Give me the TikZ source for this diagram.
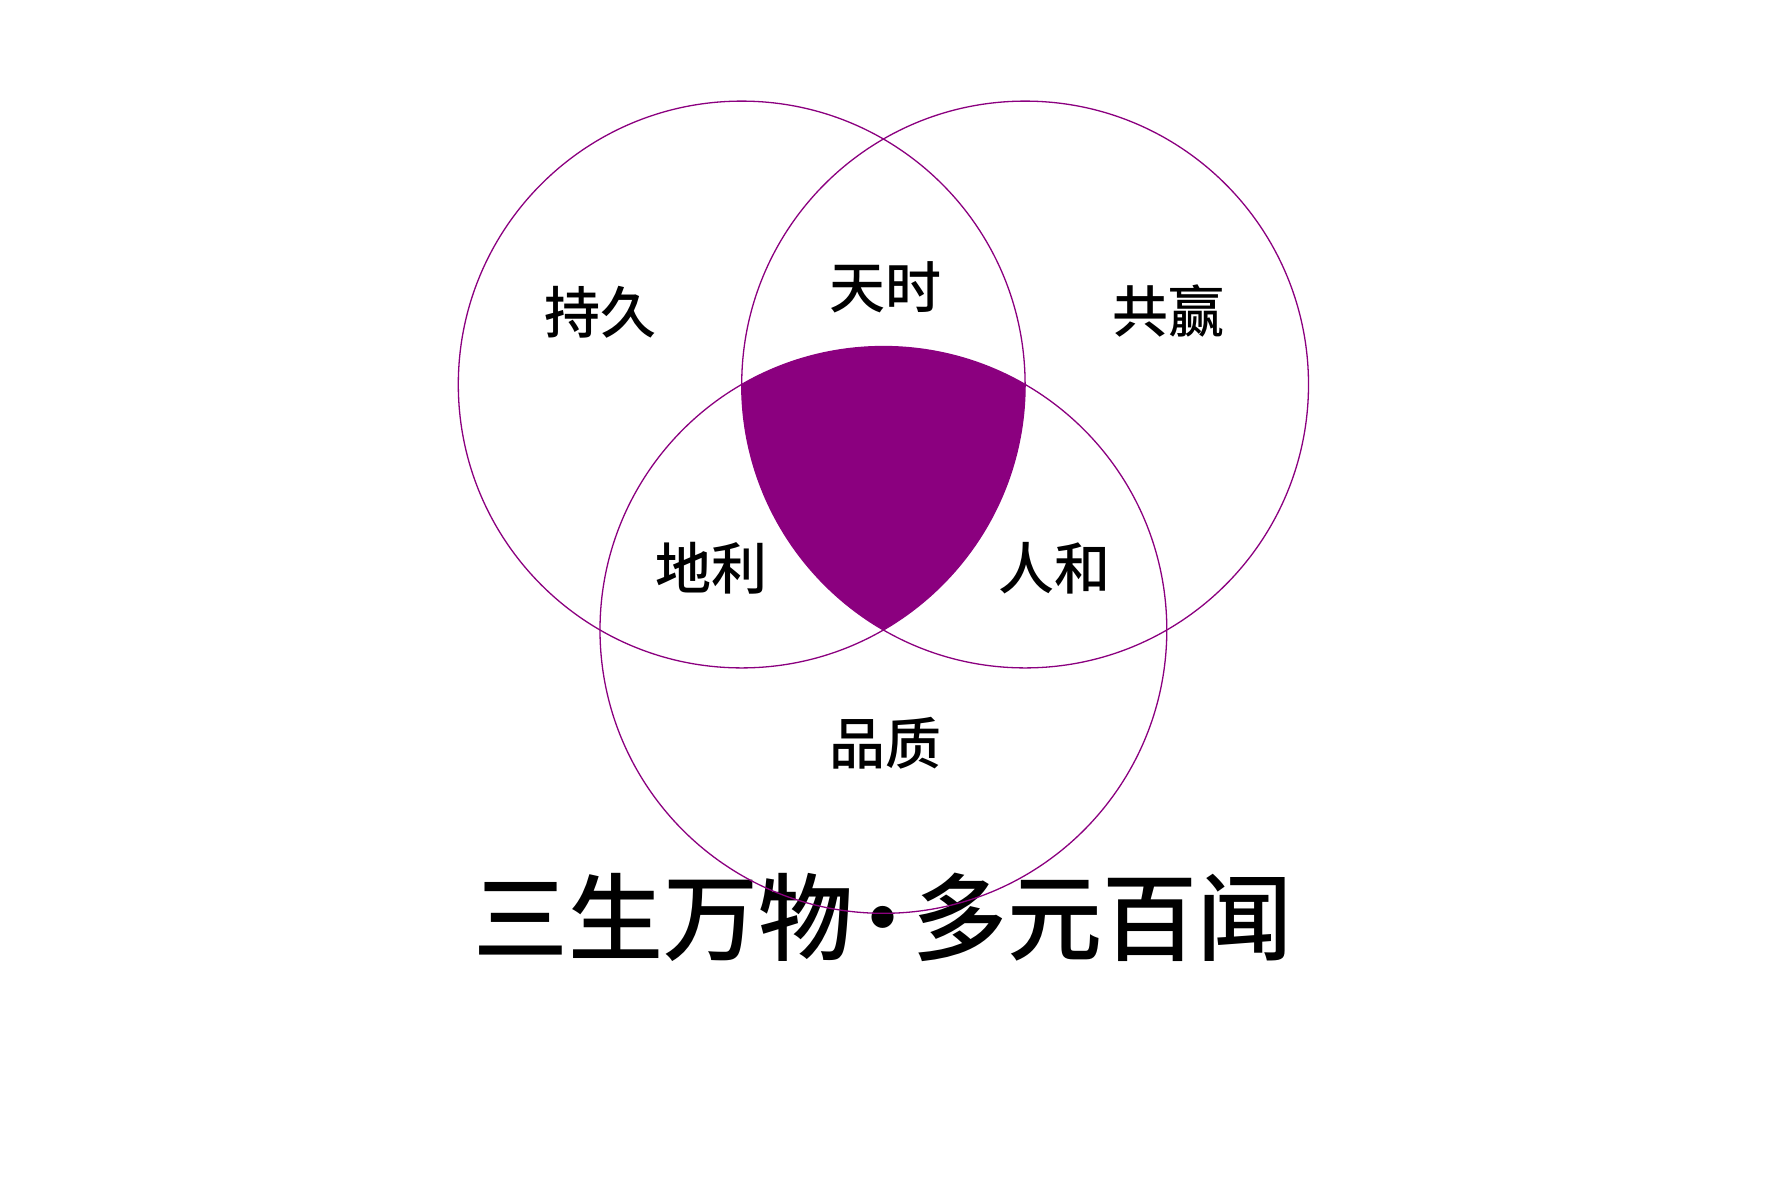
\documentclass[tikz,border=0pt]{standalone}
\usepackage{fontspec}
\setmainfont{Noto Sans CJK SC}
\newfontfamily\vennfont{Noto Sans CJK SC Medium}
\definecolor{vennpurple}{RGB}{139,0,127}

\begin{document}
\begin{tikzpicture}[x=1pt,y=-1pt]

        \useasboundingbox (0,0) rectangle (1768,1176);

        % circle centres
        \coordinate (L) at (741.7,384.5);
        \coordinate (R) at (1025.1,384.5);
        \coordinate (B) at (883.4,629.9);

        \begin{scope}[every node/.style={inner sep=0pt, font=\vennfont\fontsize{56}{60}\selectfont}]
          \node (chijiu)   at (600,312)    {持久};
          \node (tianshi)  at (885.5,287)  {天时};
          \node (gongying) at (1168,311)   {共赢};
          \node (dili)     at (711,568)    {地利};
          \node (renhe)    at (1054.5,568) {人和};
          \node (pinzhi)   at (885.5,743)  {品质};
        \end{scope}

        \node[inner sep=0pt, font=\vennfont\fontsize{95}{100}\selectfont] (title) at (883,917)
          {三生万物\hspace{-18pt}·\hspace{-18pt}多元百闻};

        \begin{scope}
          \clip (L) circle[radius=283.4];
          \clip (R) circle[radius=283.4];
          \fill[vennpurple] (B) circle[radius=283.4];
        \end{scope}

        \begin{scope}[every path/.style={draw=vennpurple, line width=1.3pt}]
          \path (L) circle[radius=283.4];
          \path (R) circle[radius=283.4];
          \path (B) circle[radius=283.4];
        \end{scope}

      \end{tikzpicture}
\end{document}
